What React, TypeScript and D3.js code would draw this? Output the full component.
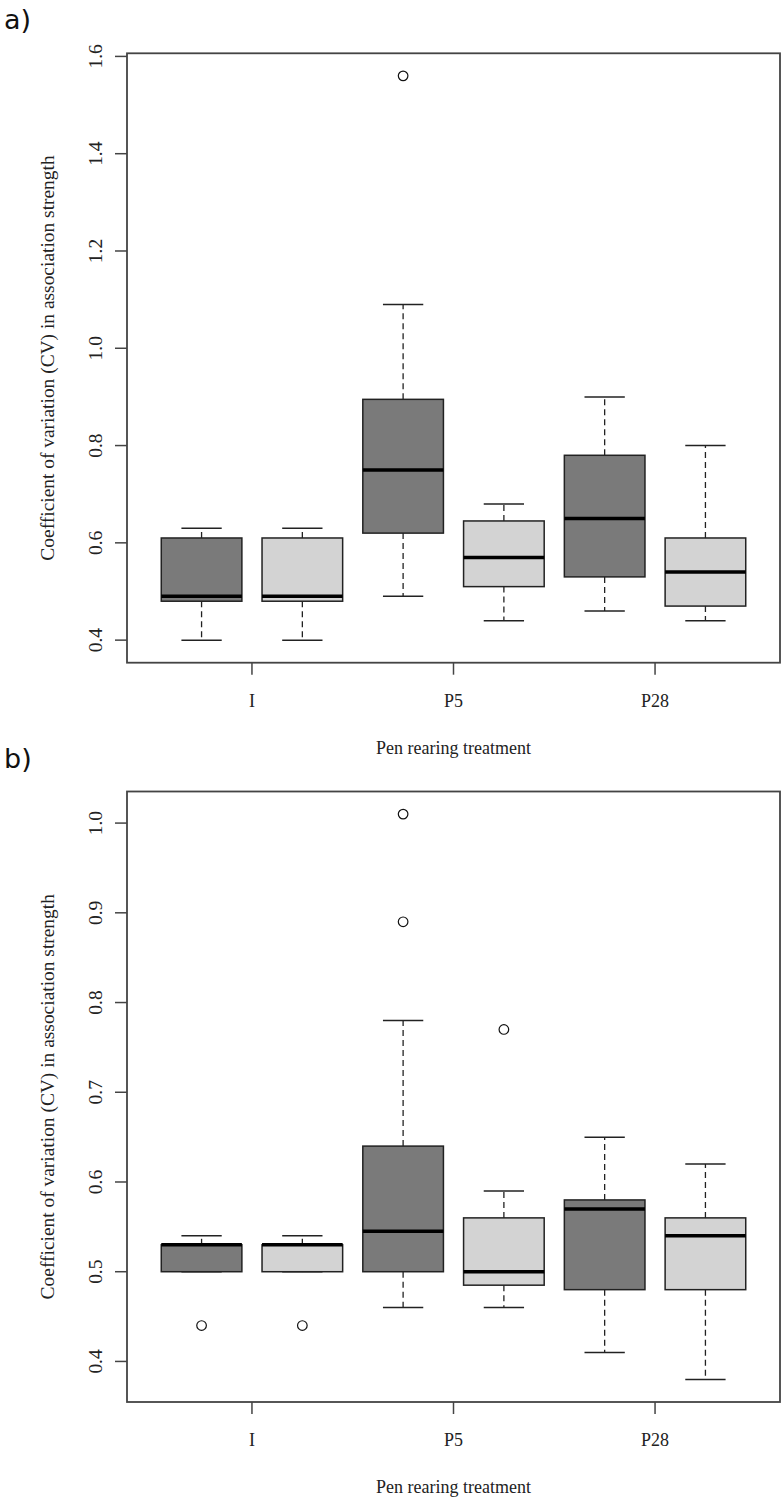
import React from "react";
import * as d3 from "d3";

const groups = ["I", "P5", "P28"];
const boxFill = ["dark", "light", "dark", "light", "dark", "light"];

// Panel a
const aLow = [0.40, 0.40, 0.49, 0.44, 0.46, 0.44];
const aQ1 = [0.48, 0.48, 0.62, 0.51, 0.53, 0.47];
const aMed = [0.49, 0.49, 0.75, 0.57, 0.65, 0.54];
const aQ3 = [0.61, 0.61, 0.895, 0.645, 0.78, 0.61];
const aHigh = [0.63, 0.63, 1.09, 0.68, 0.90, 0.80];
const aOut = [[], [], [1.56], [], [], []];
const aTicks = [0.4, 0.6, 0.8, 1.0, 1.2, 1.4, 1.6];

// Panel b
const bLow = [0.50, 0.50, 0.46, 0.46, 0.41, 0.38];
const bQ1 = [0.50, 0.50, 0.50, 0.485, 0.48, 0.48];
const bMed = [0.53, 0.53, 0.545, 0.50, 0.57, 0.54];
const bQ3 = [0.53, 0.53, 0.64, 0.56, 0.58, 0.56];
const bHigh = [0.54, 0.54, 0.78, 0.59, 0.65, 0.62];
const bOut = [[0.44], [0.44], [0.89, 1.01], [0.77], [], []];
const bTicks = [0.4, 0.5, 0.6, 0.7, 0.8, 0.9, 1.0];

const yTitle = "Coefficient of variation (CV) in association strength";
const xTitle = "Pen rearing treatment";

const fills: Record<string, string> = { dark: "#7a7a7a", light: "#d3d3d3" };
const serif = "'Liberation Serif', 'Times New Roman', serif";
const FS = 18;
const STRETCH = 1.08;

type PanelProps = {
  label: string;
  top: number;
  bottom: number;
  yDomain: [number, number];
  ticks: number[];
  low: number[];
  q1: number[];
  med: number[];
  q3: number[];
  high: number[];
  out: number[][];
};

function HText({ x, y, children }: { x: number; y: number; children: React.ReactNode }) {
  return (
    <text
      transform={`translate(${x},${y}) scale(1,${STRETCH})`}
      textAnchor="middle"
      fontFamily={serif}
      fontSize={FS}
      fill="#222"
    >
      {children}
    </text>
  );
}

function VText({ x, y, children }: { x: number; y: number; children: React.ReactNode }) {
  return (
    <text
      transform={`translate(${x},${y}) rotate(-90) scale(${STRETCH},1)`}
      textAnchor="middle"
      dominantBaseline="central"
      fontFamily={serif}
      fontSize={FS}
      fill="#222"
    >
      {children}
    </text>
  );
}

function Panel(p: PanelProps) {
  const left = 127;
  const right = 780;
  const x = d3.scaleLinear().domain([0.26, 6.74]).range([left, right]);
  const y = d3.scaleLinear().domain(p.yDomain).range([p.bottom, p.top]);
  const halfW = x(1.4) - x(1);
  const capW = halfW / 2;
  const fmt = d3.format(".1f");
  const yMid = (p.top + p.bottom) / 2;
  const xMid = (left + right) / 2;
  return (
    <g>
      <text x={4} y={p.top - 24} fontFamily="'DejaVu Sans', Verdana, sans-serif" fontSize={27} fill="#111">
        {p.label}
      </text>
      {p.low.map((_, i) => {
        const cx = x(i + 1);
        return (
          <g key={i}>
            <line x1={cx} x2={cx} y1={y(p.q3[i])} y2={y(p.high[i])} stroke="#222" strokeWidth={1.3} strokeDasharray="6,4" />
            <line x1={cx} x2={cx} y1={y(p.q1[i])} y2={y(p.low[i])} stroke="#222" strokeWidth={1.3} strokeDasharray="6,4" />
            <line x1={cx - capW} x2={cx + capW} y1={y(p.high[i])} y2={y(p.high[i])} stroke="#222" strokeWidth={1.5} />
            <line x1={cx - capW} x2={cx + capW} y1={y(p.low[i])} y2={y(p.low[i])} stroke="#222" strokeWidth={1.5} />
            <rect
              x={cx - halfW}
              y={y(p.q3[i])}
              width={halfW * 2}
              height={Math.max(0, y(p.q1[i]) - y(p.q3[i]))}
              fill={fills[boxFill[i]]}
              stroke="#222"
              strokeWidth={1.5}
            />
            <line x1={cx - halfW} x2={cx + halfW} y1={y(p.med[i])} y2={y(p.med[i])} stroke="#000" strokeWidth={3.5} />
            {p.out[i].map((v, j) => (
              <circle key={j} cx={cx} cy={y(v)} r={4.8} fill="none" stroke="#111" strokeWidth={1.2} />
            ))}
          </g>
        );
      })}
      <rect x={left} y={p.top} width={right - left} height={p.bottom - p.top} fill="none" stroke="#444" strokeWidth={1.8} />
      {p.ticks.map((t) => (
        <g key={t}>
          <line x1={left - 12} x2={left} y1={y(t)} y2={y(t)} stroke="#444" strokeWidth={1.5} />
          <VText x={96} y={y(t)}>{fmt(t)}</VText>
        </g>
      ))}
      {groups.map((g, k) => {
        const gx = x(2 * k + 1.5);
        return (
          <g key={g}>
            <line x1={gx} x2={gx} y1={p.bottom} y2={p.bottom + 12} stroke="#444" strokeWidth={1.5} />
            <HText x={gx} y={p.bottom + 44}>{g}</HText>
          </g>
        );
      })}
      <HText x={xMid} y={p.bottom + 91}>{xTitle}</HText>
      <VText x={48} y={yMid}>{yTitle}</VText>
    </g>
  );
}

export default function App() {
  return (
    <svg width={784} height={1500} style={{ position: "absolute", left: 0, top: 0, background: "#fff" }}>
      <rect x={0} y={0} width={784} height={1500} fill="#fff" />
      <Panel
        label="a)"
        top={53.3}
        bottom={662.7}
        yDomain={[0.3536, 1.6064]}
        ticks={aTicks}
        low={aLow}
        q1={aQ1}
        med={aMed}
        q3={aQ3}
        high={aHigh}
        out={aOut}
      />
      <Panel
        label="b)"
        top={791.5}
        bottom={1402}
        yDomain={[0.3548, 1.0352]}
        ticks={bTicks}
        low={bLow}
        q1={bQ1}
        med={bMed}
        q3={bQ3}
        high={bHigh}
        out={bOut}
      />
    </svg>
  );
}
